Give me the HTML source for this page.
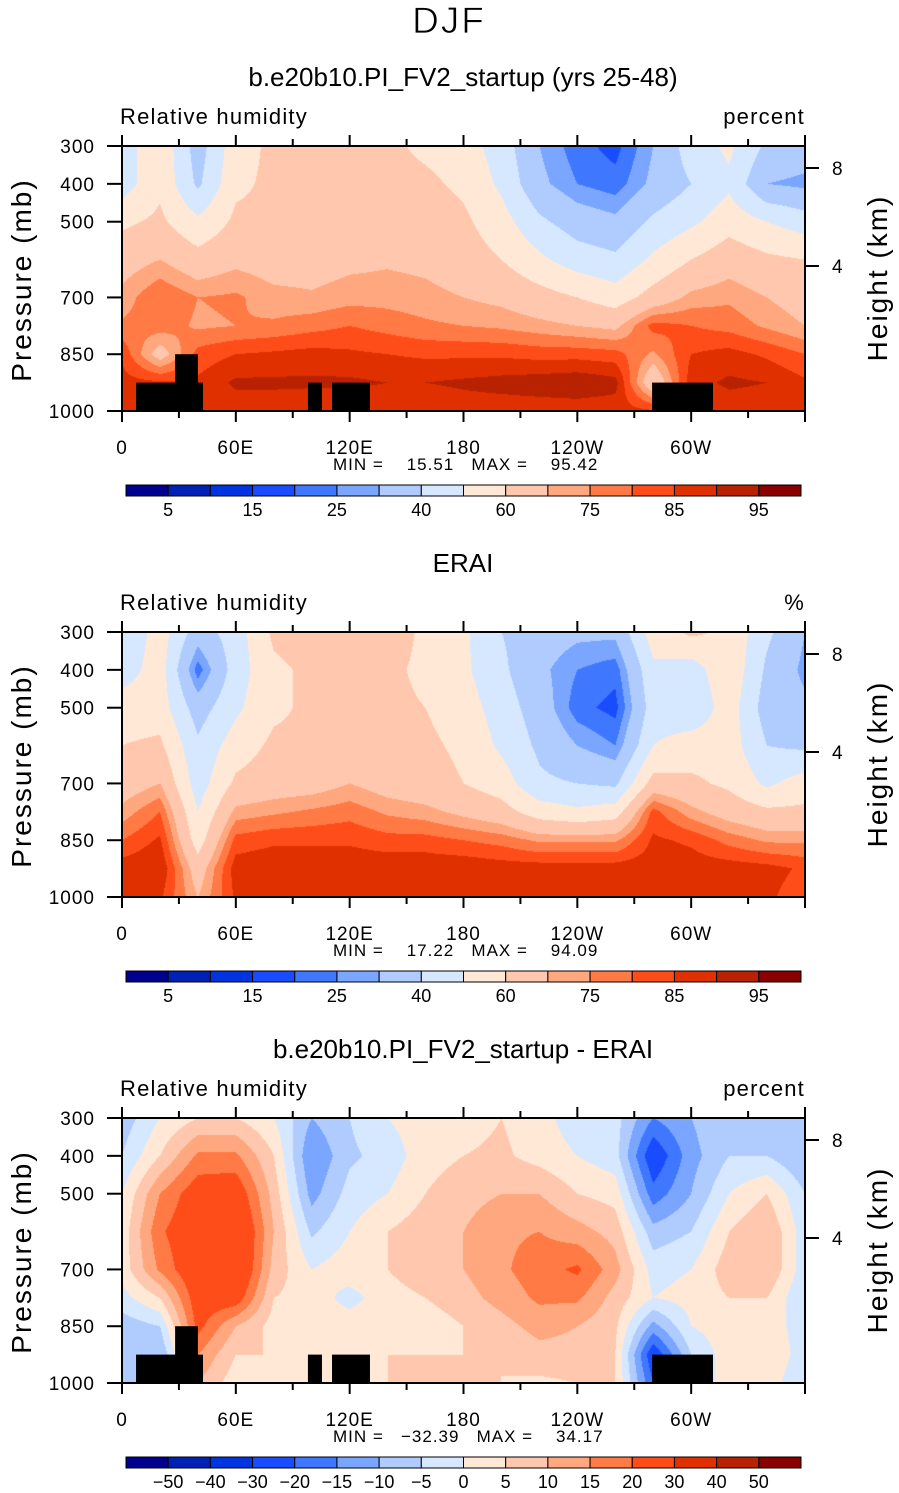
<!DOCTYPE html>
<html><head><meta charset="utf-8"><title>DJF Relative humidity</title>
<style>
html,body{margin:0;padding:0;background:#fff;}
#root{position:relative;width:899px;height:1493px;overflow:hidden;font-family:"Liberation Sans",sans-serif;}
canvas{position:absolute;}
svg{position:absolute;left:0;top:0;}
</style></head>
<body>
<div id="root">
<canvas id="c0" width="683" height="265" style="left:122px;top:146px"></canvas>
<canvas id="c1" width="683" height="265" style="left:122px;top:632px"></canvas>
<canvas id="c2" width="683" height="265" style="left:122px;top:1118px"></canvas>
<svg id="s" width="899" height="1493"></svg>
</div>
<script>
const palette=["#00008f","#0022b4","#0034e0","#1a4cff","#3f78ff","#7aa6ff","#b0ccff","#d6e8ff","#ffe8d6","#ffc8ae","#ffa880","#ff7a45","#ff4d1a","#e03000","#b82200","#880000"];
const rhLevels=[5,10,15,20,25,30,40,50,60,70,75,80,85,90,95];
const rhLabels=["5","","15","","25","","40","","60","","75","","85","","95"];
const diffLevels=[-50,-40,-30,-20,-15,-10,-5,0,5,10,15,20,30,40,50];
const diffLabels=["−50","−40","−30","−20","−15","−10","−5","0","5","10","15","20","30","40","50"];
const lons=[0,20,40,60,80,100,120,140,160,180,200,220,240,260,280,300,320,340,360];
const pLevels=[300,400,500,600,700,775,850,925,1000];
const xTickLabels=["0","60E","120E","180","120W","60W"];
const yTickValues=[300,400,500,700,850,1000];
const heightTicks=[[8,168],[4,266]];
const modelRH=[
[45,45,58,66,72,76,84,87,85],[58,58,62,70,80,78,66,86,85],[35,38,52,64,75,74,82,86,85],
[56,58,62,68,76,75,85,91,87],[62,62,62,66,72,76,86,91,87],[60,62,64,66,71,78,87,91,86],
[62,62,64,68,73,80,86,91,86],[62,63,66,69,73,78,85,90,86],[58,62,66,68,72,76,84,90,86],
[55,58,62,65,70,75,84,91,87],[45,48,54,60,68,74,84,92,87],[30,32,42,52,64,72,83,93,87],
[22,25,35,45,60,70,83,94,87],[18,22,32,42,55,68,82,92,87],[30,32,42,52,64,82,74,62,86],
[45,40,48,60,72,80,85,88,86],[52,48,56,66,74,78,87,91,87],[38,30,50,62,70,74,84,90,87],
[35,28,45,60,66,70,80,86,85]];
const eraiRH=[
[40,45,55,60,65,72,80,88,86],[55,55,55,62,70,80,86,90,86],[35,22,35,42,45,50,55,65,70],
[45,45,48,55,62,72,82,88,86],[62,58,58,62,65,74,84,89,86],[65,62,62,62,66,76,84,89,86],
[68,65,62,64,70,78,84,89,86],[65,62,62,62,66,74,82,89,86],[58,58,60,62,64,72,82,89,86],
[52,52,55,58,60,68,80,89,86],[40,42,45,48,55,64,78,88,86],[35,32,35,38,42,55,74,88,86],
[32,25,22,30,40,52,74,88,86],[32,22,18,25,38,55,74,88,86],[55,48,45,50,64,82,86,88,86],
[62,45,42,55,62,72,84,88,86],[58,58,55,55,58,66,78,88,88],[42,38,35,40,48,62,74,87,86],
[30,28,32,38,55,62,74,84,82]];
const diffRH=[
[-8,-5,0,2,2,-2,-8,-10,-5],[0,5,15,19,16,5,-5,-10,-5],[5,16,24,26,26,24,22,15,10],
[5,16,25,30,30,24,10,5,2],[0,5,8,10,8,5,3,5,5],[-10,-15,-12,-6,0,3,3,3,3],
[-5,-6,-3,0,3,-2,3,3,3],[0,-3,0,5,5,3,5,5,5],[3,3,5,8,8,5,2,5,5],
[3,5,8,10,10,8,5,5,5],[5,6,10,14,14,12,8,5,5],[2,3,10,15,18,16,12,8,4],
[-3,0,5,12,21,16,10,8,5],[-3,-3,3,8,12,8,6,5,5],[-15,-25,-18,-8,-2,0,-12,-25,-20],
[-10,-12,-10,-5,0,2,0,-5,-5],[-5,-5,0,5,8,5,3,3,3],[-8,-5,5,10,10,5,3,5,3],
[-10,-10,-5,-3,-3,-5,-3,-3,-5]];
const maskLon0=[7.4,28,98,110.7,279.4];
const maskLon1=[42.7,40,105.4,130.7,311.5];
const maskTop=[925,850,925,925,925];

const PX=122,PW=683,PH=265;
const panelTops=[146,632,1118];
function xOf(lon){return PX+lon/360*PW;}
function yOf(p,top){return top+(p-300)/700*PH;}
function interp(grid,lon,p){
  let i=Math.min(lons.length-2,Math.floor(lon/20));let fx=(lon-lons[i])/20;
  let j=0;while(j<pLevels.length-2&&p>pLevels[j+1])j++;
  let fy=(p-pLevels[j])/(pLevels[j+1]-pLevels[j]);
  const a=grid[i][j],b=grid[i+1][j],c=grid[i][j+1],d=grid[i+1][j+1];
  return (a*(1-fx)+b*fx)*(1-fy)+(c*(1-fx)+d*fx)*fy;
}
function level(v,lv){let k=0;while(k<lv.length&&v>=lv[k])k++;return k;}
function hexRGB(h){return [parseInt(h.substr(1,2),16),parseInt(h.substr(3,2),16),parseInt(h.substr(5,2),16)];}
const pal=palette.map(hexRGB);
function drawField(id,grid,lv){
  const cv=document.getElementById(id),ctx=cv.getContext('2d');
  const img=ctx.createImageData(PW,PH);
  for(let y=0;y<PH;y++){const p=300+(y+0.5)/PH*700;
    for(let x=0;x<PW;x++){const lon=(x+0.5)/PW*360;
      const c=pal[level(interp(grid,lon,p),lv)];const o=(y*PW+x)*4;
      img.data[o]=c[0];img.data[o+1]=c[1];img.data[o+2]=c[2];img.data[o+3]=255;}}
  ctx.putImageData(img,0,0);
}
drawField('c0',modelRH,rhLevels);
drawField('c1',eraiRH,rhLevels);
drawField('c2',diffRH,diffLevels);

const S=document.getElementById('s');const NS="http://www.w3.org/2000/svg";
function mk(tag,attrs,parent){const e=document.createElementNS(NS,tag);for(const k in attrs)e.setAttribute(k,attrs[k]);(parent||S).appendChild(e);return e;}
function txt(str,x,y,size,anchor,name,extra){const t=mk('text',Object.assign({x:x,y:y,'font-size':size,'text-anchor':anchor||'start','font-family':'Liberation Sans, sans-serif',fill:'#000'},extra||{}));t.textContent=str;


return t;}

txt("DJF",449,33,37,'middle','figure-title',{'letter-spacing':2,'stroke':'#fff','stroke-width':'0.8'});
const titles=["b.e20b10.PI_FV2_startup (yrs 25-48)","ERAI","b.e20b10.PI_FV2_startup - ERAI"];
const units=["percent","%","percent"];
const minmax=[["15.51","95.42"],["17.22","94.09"],["−32.39","34.17"]];
const hasMask=[true,false,true];
const barLevels=[rhLabels,rhLabels,diffLabels];

for(let k=0;k<3;k++){
  const top=panelTops[k],d=k*486;
  txt(titles[k],463,86+d,26,'middle','panel-title-'+(k+1));
  txt("Relative humidity",120,124+d,22,'start','variable-label-'+(k+1),{'letter-spacing':1.2});
  txt(units[k],805,124+d,22,'end','units-label-'+(k+1),{'letter-spacing':1.2});
  if(hasMask[k]){
    for(let m=0;m<maskLon0.length;m++){
      const r=mk('rect',{x:xOf(maskLon0[m]),y:yOf(maskTop[m],top),width:xOf(maskLon1[m])-xOf(maskLon0[m]),height:yOf(1000,top)-yOf(maskTop[m],top),fill:'#000'});
      
      
    }
  }
  const fr=mk('rect',{x:PX,y:top,width:PW,height:PH,fill:'none',stroke:'#000','stroke-width':2});
  
  
  for(let lon=0;lon<=360;lon+=30){
    const major=lon%60===0,len=major?11:7,x=xOf(lon);
    mk('line',{x1:x,y1:top,x2:x,y2:top-len,stroke:'#000','stroke-width':2});
    mk('line',{x1:x,y1:top+PH,x2:x,y2:top+PH+len,stroke:'#000','stroke-width':2});
  }
  xTickLabels.forEach((l,i)=>{txt(l,xOf(i*60),454+d,19,'middle','x-tick-label',{'letter-spacing':1});});
  yTickValues.forEach(p=>{const y=yOf(p,top);
    mk('line',{x1:PX-15,y1:y,x2:PX,y2:y,stroke:'#000','stroke-width':2});
    txt(String(p),95,y+7,19,'end','y-tick-label',{'letter-spacing':1});});
  heightTicks.forEach(h=>{const y=h[1]+d;
    mk('line',{x1:PX+PW,y1:y,x2:PX+PW+14,y2:y,stroke:'#000','stroke-width':2});
    txt(String(h[0]),832,y+7,19,'start','height-tick-label');});
  txt("Pressure  (mb)",0,0,28,'middle','y-axis-title',{transform:`translate(31,${280+d}) rotate(-90)`,'letter-spacing':2});
  txt("Height  (km)",0,0,28,'middle','right-axis-title',{transform:`translate(887,${278+d}) rotate(-90)`,'letter-spacing':2});
  txt(`MIN = ${minmax[k][0].padStart(8,' ')}   MAX = ${minmax[k][1].padStart(8,' ')}`,333,470+d,17,'start','min-max-label',{'style':'white-space:pre','letter-spacing':1});
  const bx=126,bw=675,by=485+d,bh=11,n=16;
  for(let i=0;i<n;i++){
    const r=mk('rect',{x:bx+i*bw/n,y:by,width:bw/n,height:bh,fill:palette[i],stroke:'#000','stroke-width':1});
    
    
  }
  barLevels[k].forEach((l,i)=>{if(l)txt(l,bx+(i+1)*bw/n,516+d,18,'middle','colorbar-label');});
}
</script>
</body></html>
